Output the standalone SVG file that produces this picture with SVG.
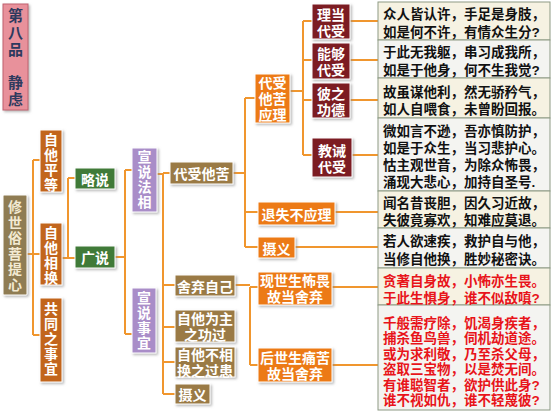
<svg xmlns="http://www.w3.org/2000/svg" width="553" height="417" viewBox="0 0 553 417">
<defs>
<filter id="sh" x="-20%" y="-20%" width="150%" height="150%">
<feDropShadow dx="1.5" dy="1.5" stdDeviation="1" flood-color="#888" flood-opacity="0.6"/>
</filter>
</defs>
<style>
text{font-family:"Noto Sans CJK SC","Noto Sans",sans-serif;font-weight:bold;}
text.m,.tb text{font-family:"Liberation Sans","Noto Sans CJK SC",sans-serif;}
.n text{fill:#fff;font-size:14px;text-anchor:middle;dominant-baseline:central;}
.n text.v{writing-mode:vertical-rl;letter-spacing:1px;}
.n rect{stroke:#fff;stroke-width:1;filter:url(#sh);}
.title rect{fill:#e8919b;stroke:#c0606e;stroke-width:1;}
.title text{fill:#2e3a5e;font-size:15px;}
.n.title text.v{letter-spacing:2px;}
.root rect{fill:#8f7c52;}
.root text{fill:#f3ead2;}
.n.root text.v{letter-spacing:1.5px;}
.l2 rect{fill:#c2651a;}
.gr rect{fill:#3f7a37;}
.pu rect{fill:#a98dc8;}
.br rect{fill:#9a7a45;}
.or rect{fill:#ec7a14;}
.dr rect{fill:#7b1a24;}
#conn path{fill:none;stroke:#f0962e;stroke-width:2;}
.tb rect{stroke:#8d9a84;stroke-width:1;}
.ra{fill:#f6f2e2;}
.rb{fill:#f4f4f1;}
.tb text{font-size:13.5px;fill:#111;dominant-baseline:central;}
.tb text.red{fill:#e8141a;}
</style>

<g id="conn">
<path d="M27 254H33M33 160V335M33 160H40M33 254H40M33 335H40"/>
<path d="M62 258H68M68 178V258M68 178H75M68 258H75"/>
<path d="M115 257H125M125 170V334M125 170H132M125 334H132"/>
<path d="M157 174H163M163 173V394M163 173H170M163 285H175M163 327H175M163 362H175M163 394H175"/>
<path d="M233 173H245M245 98V247M245 98H255M245 212H258M245 247H258"/>
<path d="M290 91H303M303 21V155M303 21H312M303 60H312M303 100H312M303 155H312"/>
<path d="M350 21H378M350 60H378M350 100H378M352 155H378M335 212H378M295 247H378"/>
<path d="M235 285H250M250 287V365M250 287H258M250 365H258M332 287H378M332 365H378"/>
</g>

<g id="title" class="n title">
<rect x="3" y="4" width="25" height="106"/>
<text class="v" x="15.5" y="33">第八品</text>
<text class="v" x="15.5" y="91.5">静虑</text>
</g>

<g id="root" class="n root">
<rect x="3" y="195" width="24" height="100" rx="1"/>
<text class="v" x="15" y="246.5">修世俗菩提心</text>
</g>

<g id="zitapingdeng" class="n l2">
<rect x="40" y="130" width="22" height="62"/>
<text class="v" x="51" y="163">自他平等</text>
</g>
<g id="zitaxianghuan" class="n l2">
<rect x="40" y="223" width="22" height="62"/>
<text class="v" x="51" y="256">自他相换</text>
</g>
<g id="gongtong" class="n l2">
<rect x="40" y="298" width="22" height="84"/>
<text class="v" x="51" y="339.5">共同之事宜</text>
</g>

<g id="lueshuo" class="n gr">
<rect x="75" y="168" width="40" height="21"/>
<text x="95" y="178.5">略说</text>
</g>
<g id="guangshuo" class="n gr">
<rect x="75" y="246" width="40" height="22"/>
<text x="95" y="257">广说</text>
</g>

<g id="xuanshuofaxiang" class="n pu">
<rect x="132" y="148" width="25" height="64"/>
<text class="v" x="144.5" y="180">宣说法相</text>
</g>
<g id="xuanshuoshiyi" class="n pu">
<rect x="132" y="288" width="24" height="65"/>
<text class="v" x="144" y="321">宣说事宜</text>
</g>

<g id="daishoutaku" class="n br">
<rect x="170" y="162" width="63" height="22"/>
<text x="201.5" y="173">代受他苦</text>
</g>
<g id="sheqiziji" class="n br">
<rect x="175" y="275" width="60" height="21"/>
<text x="205" y="285.5">舍弃自己</text>
</g>
<g id="gongguo" class="n br">
<rect x="175" y="310" width="60" height="32"/>
<text class="m"><tspan x="205" y="319">自他为主</tspan><tspan x="205" y="335">之功过</tspan></text>
</g>
<g id="guohuan" class="n br">
<rect x="175" y="347" width="60" height="30"/>
<text class="m"><tspan x="205" y="355">自他不相</tspan><tspan x="205" y="371">换之过患</tspan></text>
</g>
<g id="sheyi1" class="n br">
<rect x="175" y="384" width="35" height="20"/>
<text x="192.5" y="394">摄义</text>
</g>

<g id="yingli" class="n or">
<rect x="255" y="74" width="35" height="49"/>
<text class="m"><tspan x="272.5" y="83">代受</tspan><tspan x="272.5" y="99">他苦</tspan><tspan x="272.5" y="115">应理</tspan></text>
</g>
<g id="tuishi" class="n or">
<rect x="258" y="202" width="77" height="23"/>
<text x="296.5" y="213.5">退失不应理</text>
</g>
<g id="sheyi2" class="n or">
<rect x="258" y="237" width="37" height="21"/>
<text x="276.5" y="247.5">摄义</text>
</g>
<g id="xianshi" class="n or">
<rect x="258" y="272" width="74" height="33"/>
<text class="m"><tspan x="295" y="281">现世生怖畏</tspan><tspan x="295" y="297">故当舍弃</tspan></text>
</g>
<g id="houshi" class="n or">
<rect x="258" y="348" width="74" height="34"/>
<text class="m"><tspan x="295" y="358">后世生痛苦</tspan><tspan x="295" y="374">故当舍弃</tspan></text>
</g>

<g id="lidang" class="n dr">
<rect x="312" y="4" width="38" height="35"/>
<text class="m"><tspan x="331" y="14.5">理当</tspan><tspan x="331" y="30.5">代受</tspan></text>
</g>
<g id="nenggou" class="n dr">
<rect x="312" y="43" width="38" height="36"/>
<text class="m"><tspan x="331" y="54">能够</tspan><tspan x="331" y="70">代受</tspan></text>
</g>
<g id="bizhi" class="n dr">
<rect x="312" y="83" width="38" height="35"/>
<text class="m"><tspan x="331" y="93.5">彼之</tspan><tspan x="331" y="109.5">功德</tspan></text>
</g>
<g id="jiaojie" class="n dr">
<rect x="312" y="138" width="40" height="39"/>
<text class="m"><tspan x="332" y="150.5">教诫</tspan><tspan x="332" y="166.5">代受</tspan></text>
</g>

<g id="table" class="tb">
<rect class="ra" x="378" y="2" width="172" height="38"/>
<rect class="rb" x="378" y="40" width="172" height="38"/>
<rect class="ra" x="378" y="78" width="172" height="40"/>
<rect class="rb" x="378" y="118" width="172" height="73"/>
<rect class="ra" x="378" y="191" width="172" height="37"/>
<rect class="rb" x="378" y="228" width="172" height="40"/>
<rect class="ra" x="378" y="268" width="172" height="37"/>
<rect class="rb" x="378" y="305" width="172" height="105"/>
<text><tspan x="383" y="14">众人皆认许，手足是身肢，</tspan><tspan x="383" y="31.5">如是何不许，有情众生分?</tspan></text>
<text><tspan x="383" y="52">于此无我躯，串习成我所，</tspan><tspan x="383" y="69.5">如是于他身，何不生我觉?</tspan></text>
<text><tspan x="383" y="92">故虽谋他利，然无骄矜气，</tspan><tspan x="383" y="109">如人自喂食，未曾盼回报。</tspan></text>
<text><tspan x="383" y="131">微如言不逊，吾亦慎防护，</tspan><tspan x="383" y="148">如是于众生，当习悲护心。</tspan><tspan x="383" y="165">怙主观世音，为除众怖畏，</tspan><tspan x="383" y="182">涌现大悲心，加持自圣号.</tspan></text>
<text><tspan x="383" y="203">闻名昔丧胆，因久习近故，</tspan><tspan x="383" y="220">失彼竟寡欢，知难应莫退。</tspan></text>
<text><tspan x="383" y="241">若人欲速疾，救护自与他，</tspan><tspan x="383" y="258.5">当修自他换，胜妙秘密诀。</tspan></text>
<text class="red"><tspan x="383" y="281">贪著自身故，小怖亦生畏。</tspan><tspan x="383" y="298">于此生惧身，谁不似敌嗔?</tspan></text>
<text class="red"><tspan x="383" y="322.5">千般需疗除，饥渴身疾者，</tspan><tspan x="383" y="338">捕杀鱼鸟兽，伺机劫道途。</tspan><tspan x="383" y="353.5">或为求利敬，乃至杀父母，</tspan><tspan x="383" y="369">盗取三宝物，以是焚无间。</tspan><tspan x="383" y="384.5">有谁聪智者，欲护供此身?</tspan><tspan x="383" y="400">谁不视如仇，谁不轻蔑彼?</tspan></text>
</g>
</svg>
